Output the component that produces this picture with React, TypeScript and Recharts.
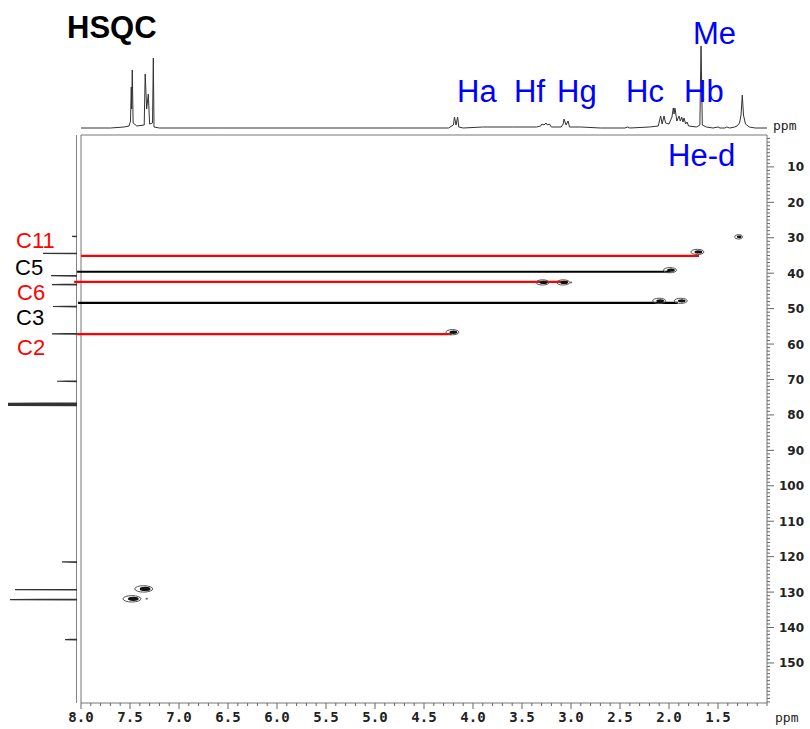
import React from 'react';
import {
  ScatterChart,
  Scatter,
  XAxis,
  YAxis,
  ReferenceLine,
  ReferenceArea,
} from 'recharts';

// ---------- data ----------
// 1H projection (top trace): ppm, relative intensity
const protonSpectrum: [number, number][] = [
  [8.0, 1], [7.7, 1], [7.56, 2], [7.51, 3], [7.495, 8], [7.487, 42], [7.483, 20],
  [7.477, 59], [7.468, 6], [7.43, 3], [7.355, 4], [7.345, 55], [7.33, 20],
  [7.313, 35], [7.3, 5], [7.27, 6], [7.262, 71], [7.255, 2], [7.2, 1], [6.6, 1],
  [5.5, 1], [4.8, 1], [4.25, 1], [4.2, 4], [4.189, 12], [4.173, 4], [4.157, 12],
  [4.145, 2], [4.1, 1], [3.9, 2], [3.6, 2], [3.35, 2], [3.31, 3], [3.296, 5],
  [3.275, 4], [3.255, 6], [3.24, 4], [3.22, 5], [3.2, 2], [3.1, 2], [3.08, 5],
  [3.071, 10], [3.05, 4], [3.03, 8], [3.015, 2], [2.9, 2], [2.7, 1], [2.45, 1],
  [2.42, 2], [2.4, 1], [2.2, 2], [2.11, 3], [2.085, 13], [2.07, 5], [2.051, 13],
  [2.035, 6], [2.0, 5], [1.97, 12], [1.956, 21], [1.948, 15], [1.939, 21],
  [1.92, 8], [1.898, 13], [1.885, 8], [1.87, 12], [1.858, 7], [1.847, 11],
  [1.83, 5], [1.816, 7], [1.8, 3], [1.72, 2], [1.685, 4], [1.673, 83], [1.66, 4],
  [1.62, 2], [1.55, 1], [1.5, 2], [1.48, 1], [1.43, 1], [1.41, 2], [1.38, 1],
  [1.33, 2], [1.306, 3], [1.28, 6], [1.265, 14], [1.252, 34], [1.24, 14],
  [1.22, 5], [1.18, 2], [1.12, 1], [1.0, 1],
];

// 13C projection (left trace): ppm, relative intensity
const carbonSpectrum: [number, number][] = [
  [1, 0], [29.5, 0], [29.6, 5], [29.7, 0], [34.3, 0], [34.4, 34], [34.5, 0],
  [40.6, 0], [40.7, 26], [40.8, 0], [43.1, 0], [43.2, 25], [43.3, 0],
  [49.3, 0], [49.4, 24], [49.5, 0], [57.0, 0], [57.1, 25], [57.2, 0],
  [70.4, 0], [70.5, 20], [70.6, 0], [76.6, 0], [76.7, 69], [76.8, 0],
  [76.9, 0], [77.0, 69], [77.1, 0], [77.2, 0], [77.3, 69], [77.4, 0],
  [121.4, 0], [121.5, 15], [121.6, 0], [129.2, 0], [129.3, 62], [129.4, 0],
  [132.0, 0], [132.1, 67], [132.2, 0], [143.3, 0], [143.4, 12], [143.5, 0],
  [161.3, 0],
];

// HSQC cross peaks: 1H ppm, 13C ppm, contour level
const crossPeaks = [
  { h: 1.29, c: 29.75, level: 1 },
  { h: 1.71, c: 34.0, level: 2 },
  { h: 1.99, c: 39.15, level: 2 },
  { h: 2.1, c: 47.8, level: 2 },
  { h: 1.88, c: 47.8, level: 2 },
  { h: 3.29, c: 42.6, level: 2 },
  { h: 3.08, c: 42.6, level: 2 },
  { h: 3.0, c: 42.6, level: 0 },
  { h: 4.21, c: 56.65, level: 2 },
  { h: 7.36, c: 129.1, level: 3 },
  { h: 7.48, c: 131.9, level: 3 },
  { h: 7.33, c: 131.9, level: 0 },
];

// Assignment lines: label, 13C ppm, start 1H ppm, end 1H ppm, colour
const assignments = [
  { label: 'C11', c: 35.1, from: 8.0, to: 1.694, color: '#ff0000' },
  { label: 'C5', c: 39.6, from: 8.04, to: 1.99, color: '#000000' },
  { label: 'C6', c: 42.45, from: 8.07, to: 3.03, color: '#ff0000' },
  { label: 'C3', c: 48.4, from: 8.03, to: 1.91, color: '#000000' },
  { label: 'C2', c: 57.2, from: 8.04, to: 4.22, color: '#ff0000' },
];

const xMajorTicks = [8.0, 7.5, 7.0, 6.5, 6.0, 5.5, 5.0, 4.5, 4.0, 3.5, 3.0, 2.5, 2.0, 1.5];
const yMajorTicks = [10, 20, 30, 40, 50, 60, 70, 80, 90, 100, 110, 120, 130, 140, 150];

const X_DOMAIN: [number, number] = [1.0, 8.0];
const Y_DOMAIN: [number, number] = [1.0, 161.3];

const xMinorTicks: number[] = [];
for (let i = 10; i <= 80; i++) xMinorTicks.push(i / 10);
const yMinorTicks: number[] = [];
for (let i = 2; i <= 161; i++) yMinorTicks.push(i);

const protonData = protonSpectrum.map(([ppm, v]) => ({ ppm, v }));
const carbonData = carbonSpectrum.map(([ppm, v]) => ({ ppm, v }));

const isMajor = (list: number[], v: number) => list.some((t) => Math.abs(t - v) < 1e-6);

const XTick = (props: any) => {
  const { x, y, payload } = props;
  const v = payload.value;
  const major = isMajor(xMajorTicks, v);
  return (
    <g>
      <line x1={x} y1={y} x2={x} y2={y + (major ? 6 : 3)} stroke="#666" strokeWidth={1} />
      {major && (
        <text
          x={x}
          y={y + 19}
          textAnchor="middle"
          fontFamily="DejaVu Sans Mono"
          fontWeight="bold"
          fontSize={14}
          fill="#222"
        >
          {v.toFixed(1)}
        </text>
      )}
    </g>
  );
};

const YTick = (props: any) => {
  const { x, y, payload } = props;
  const v = payload.value;
  const major = isMajor(yMajorTicks, v);
  return (
    <g>
      <line x1={x} y1={y} x2={x + (major ? 7 : 3)} y2={y} stroke="#666" strokeWidth={1} />
      {major && (
        <text
          x={x + 37}
          y={y + 4.5}
          textAnchor="end"
          fontFamily="DejaVu Sans"
          fontWeight="bold"
          fontSize={12}
          fill="#222"
        >
          {v}
        </text>
      )}
    </g>
  );
};

const RX = [1.2, 4, 6.5, 9];
const RY = [1, 2.2, 2.6, 3.2];
const PeakShape = (props: any) => {
  const { cx, cy, payload } = props;
  const lv = payload.level;
  const rx = RX[lv];
  const ry = RY[lv];
  if (lv === 0) return <ellipse cx={cx} cy={cy} rx={rx} ry={ry} fill="#666" />;
  return (
    <g>
      <ellipse cx={cx} cy={cy} rx={rx} ry={ry} fill="none" stroke="#555" strokeWidth={1} />
      <ellipse cx={cx + rx * 0.15} cy={cy} rx={rx * 0.6} ry={ry * 0.65} fill="#111" />
    </g>
  );
};

const NoDot = () => <g />;

export default function App() {
  return (
    <div style={{ position: 'absolute', left: 0, top: 0, width: 810, height: 729, background: '#fff' }}>
      {/* Top 1H projection */}
      <div style={{ position: 'absolute', left: 0, top: 0 }}>
        <ScatterChart width={810} height={131} margin={{ top: 40, right: 43, bottom: 2, left: 81 }}>
          <XAxis type="number" dataKey="ppm" domain={X_DOMAIN} reversed hide allowDataOverflow />
          <YAxis type="number" dataKey="v" domain={[0, 89]} hide allowDataOverflow />
          <Scatter
            data={protonData}
            isAnimationActive={false}
            shape={NoDot}
            line={{ stroke: '#333', strokeWidth: 1 }}
            lineJointType="linear"
          />
        </ScatterChart>
      </div>

      {/* Left 13C projection */}
      <div style={{ position: 'absolute', left: 0, top: 0 }}>
        <ScatterChart width={81} height={729} margin={{ top: 135, right: 4, bottom: 26, left: 7 }}>
          <XAxis type="number" dataKey="v" domain={[0, 70]} reversed hide allowDataOverflow />
          <YAxis type="number" dataKey="ppm" domain={Y_DOMAIN} reversed hide allowDataOverflow />
          <Scatter
            data={carbonData}
            isAnimationActive={false}
            shape={NoDot}
            line={{ stroke: '#333', strokeWidth: 1.2 }}
            lineJointType="linear"
          />
        </ScatterChart>
      </div>

      {/* Main HSQC plot */}
      <div style={{ position: 'absolute', left: 0, top: 0 }}>
        <ScatterChart width={810} height={729} margin={{ top: 135, right: 0, bottom: 0, left: 81 }}>
          <XAxis
            type="number"
            dataKey="h"
            domain={X_DOMAIN}
            reversed
            allowDataOverflow
            ticks={xMinorTicks}
            interval={0}
            tick={<XTick />}
            tickLine={false}
            axisLine={false}
            tickSize={0}
            tickMargin={0}
            height={26}
          />
          <YAxis
            type="number"
            dataKey="c"
            orientation="right"
            domain={Y_DOMAIN}
            reversed
            allowDataOverflow
            ticks={yMinorTicks}
            interval={0}
            tick={<YTick />}
            tickLine={false}
            axisLine={false}
            tickSize={0}
            tickMargin={0}
            width={43}
          />
          <ReferenceArea
            x1={X_DOMAIN[1]}
            x2={X_DOMAIN[0]}
            y1={Y_DOMAIN[0]}
            y2={Y_DOMAIN[1]}
            fill="none"
            stroke="#777"
            strokeWidth={1}
            ifOverflow="visible"
          />
          {assignments.map((a) => (
            <ReferenceLine
              key={a.label}
              segment={[
                { x: a.from, y: a.c },
                { x: a.to, y: a.c },
              ]}
              stroke={a.color}
              strokeWidth={2.2}
              ifOverflow="visible"
            />
          ))}
          <Scatter data={crossPeaks} isAnimationActive={false} shape={PeakShape} />
        </ScatterChart>
      </div>

      {/* Text annotations */}
      <svg
        width={810}
        height={729}
        style={{ position: 'absolute', left: 0, top: 0, pointerEvents: 'none' }}
      >
        <text x={67} y={38} fontFamily="Liberation Sans" fontWeight="bold" fontSize={31} fill="#000">
          HSQC
        </text>
        <g fontFamily="Liberation Sans" fontSize={31} fill="#0000ff">
          <text x={693} y={44}>Me</text>
          <text x={457} y={102}>Ha</text>
          <text x={514} y={102}>Hf</text>
          <text x={557} y={102}>Hg</text>
          <text x={626} y={102}>Hc</text>
          <text x={684} y={102}>Hb</text>
          <text x={668} y={166}>He-d</text>
        </g>
        <g fontFamily="Liberation Sans" fontSize={22}>
          <text x={16} y={248} fill="#ff0000">C11</text>
          <text x={15} y={275} fill="#000">C5</text>
          <text x={17} y={300} fill="#ff0000">C6</text>
          <text x={16} y={325} fill="#000">C3</text>
          <text x={17} y={355} fill="#ff0000">C2</text>
        </g>
        <text x={773} y={130} fontFamily="DejaVu Sans Mono" fontSize={13} fill="#222">ppm</text>
        <text x={775} y={722} fontFamily="DejaVu Sans Mono" fontSize={13} fill="#222">ppm</text>
      </svg>
    </div>
  );
}
